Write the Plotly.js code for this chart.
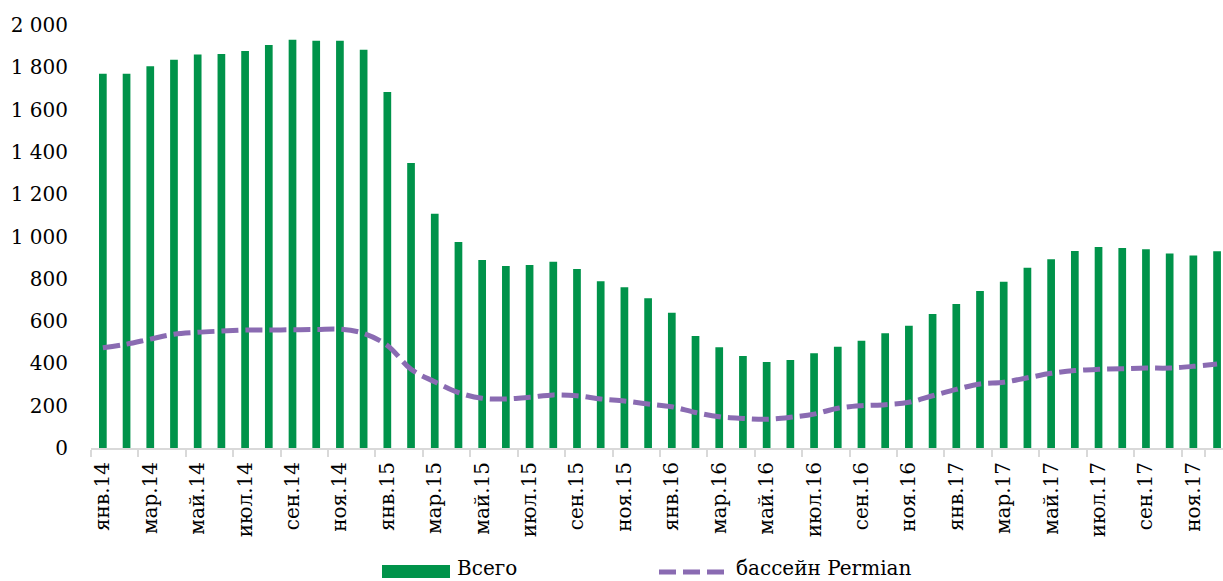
<!DOCTYPE html>
<html>
<head>
<meta charset="utf-8">
<script src="https://cdn.plot.ly/plotly-3.0.1.min.js"></script>
<style>
  body { margin: 0; background: #fff; }
  #chart { width: 1223px; height: 581px; }
</style>
</head>
<body>
<div id="chart"></div>
<script>
// months jan.14 .. dec.17
var months = [
  'янв.14','фев.14','мар.14','апр.14','май.14','июн.14','июл.14','авг.14','сен.14','окт.14','ноя.14','дек.14',
  'янв.15','фев.15','мар.15','апр.15','май.15','июн.15','июл.15','авг.15','сен.15','окт.15','ноя.15','дек.15',
  'янв.16','фев.16','мар.16','апр.16','май.16','июн.16','июл.16','авг.16','сен.16','окт.16','ноя.16','дек.16',
  'янв.17','фев.17','мар.17','апр.17','май.17','июн.17','июл.17','авг.17','сен.17','окт.17','ноя.17','дек.17'
];
// labels shown on the axis (every second month)
var tickLabels = [
  'янв.14','мар.14','май.14','июл.14','сен.14','ноя.14',
  'янв.15','мар.15','май.15','июл.15','сен.15','ноя.15',
  'янв.16','мар.16','май.16','июл.16','сен.16','ноя.16',
  'янв.17','мар.17','май.17','июл.17','сен.17','ноя.17'
];

var total = [
  1770,1770,1805,1836,1860,1863,1877,1905,1930,1926,1926,1883,
  1683,1347,1108,974,889,860,865,881,846,788,760,708,
  640,530,476,435,407,416,448,479,507,542,578,634,
  681,742,786,852,892,931,950,946,940,920,910,930
];
var permian = [
  474,491,515,538,547,553,558,558,559,560,562,542,
  485,372,313,262,235,232,240,251,247,232,222,208,
  195,168,148,140,136,145,160,188,200,205,216,247,
  277,303,311,332,353,366,372,375,378,378,386,397
];

var green = '#00934a';
var purple = '#8a6bb2';

// plot area in pixels, used for the hand made legend
var L = 91, R = 1223, T = 25, B = 448;
function px(x) { return (x - L) / (R - L); }
function py(y) { return (B - y) / (B - T); }

var traces = [
  {
    type: 'bar',
    name: 'Всего',
    x: months,
    y: total,
    marker: { color: green },
    hoverinfo: 'x+y'
  },
  {
    type: 'scatter',
    mode: 'lines',
    name: 'бассейн Permian',
    x: months,
    y: permian,
    line: { color: purple, width: 5, dash: '17px,7px', shape: 'spline', smoothing: 1 }
  }
];

var layout = {
  width: 1223,
  height: 581,
  margin: { l: L, r: 1223 - R, t: T, b: 581 - B },
  paper_bgcolor: '#fff',
  plot_bgcolor: '#fff',
  separators: ', ',
  font: { family: '"DejaVu Serif", serif', size: 20, color: '#000' },
  showlegend: false,
  bargap: 0.675,
  xaxis: {
    type: 'category',
    range: [-0.5, 47.25],
    tickmode: 'array',
    tickvals: tickLabels,
    ticktext: tickLabels,
    tickangle: -90,
    tickson: 'boundaries',
    ticks: 'outside',
    ticklen: 7,
    tickwidth: 2,
    tickcolor: '#d9d9d9',
    showline: true,
    linecolor: '#d9d9d9',
    linewidth: 2,
    showgrid: false,
    zeroline: false,
    ticklabelstandoff: 4,
    tickfont: { size: 20 }
  },
  yaxis: {
    range: [0, 2000],
    dtick: 200,
    tickformat: ',d',
    showgrid: false,
    showline: false,
    zeroline: false,
    ticks: '',
    ticklabelstandoff: 22,
    tickfont: { size: 20 }
  },
  shapes: [
    {
      type: 'rect', xref: 'paper', yref: 'paper',
      x0: px(382), x1: px(450), y0: py(565), y1: py(578),
      fillcolor: green, line: { width: 0 }
    },
    {
      type: 'line', xref: 'paper', yref: 'paper',
      x0: px(659), x1: px(726), y0: py(572), y1: py(572),
      line: { color: purple, width: 5, dash: '17px,7px' }
    }
  ],
  annotations: [
    {
      xref: 'paper', yref: 'paper', x: px(456), y: py(568),
      xanchor: 'left', yanchor: 'middle', showarrow: false,
      borderpad: 0,
      text: 'Всего', font: { size: 20 }
    },
    {
      xref: 'paper', yref: 'paper', x: px(735), y: py(568),
      xanchor: 'left', yanchor: 'middle', showarrow: false,
      borderpad: 0,
      text: 'бассейн Permian', font: { size: 20 }
    }
  ]
};

Plotly.newPlot('chart', traces, layout, { displayModeBar: false, staticPlot: true });
</script>
</body>
</html>
